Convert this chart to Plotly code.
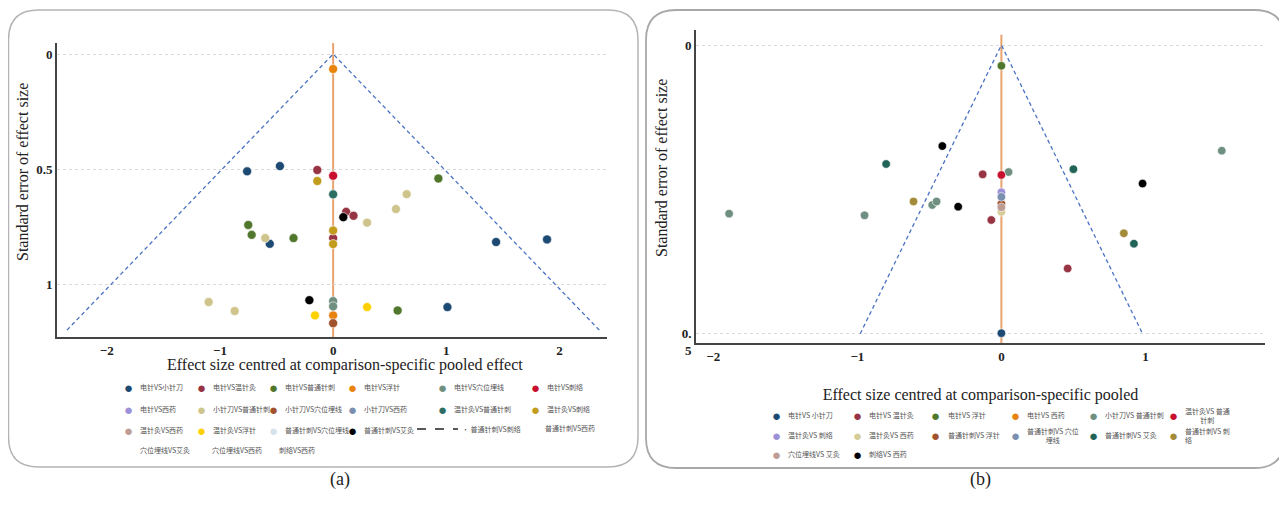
import plotly.graph_objects as go

# page offset (browser body margin) compensation
OFF = 8
W, H = 1287 - OFF, 507 - OFF

# ---------------- Panel (a) data ----------------
A_SERIES = ["电针VS小针刀", "电针VS温针灸", "电针VS普通针刺", "电针VS浮针", "电针VS穴位埋线", "电针VS刺络",
            "电针VS西药", "小针刀VS普通针刺", "小针刀VS穴位埋线", "小针刀VS西药", "温针灸VS普通针刺", "温针灸VS刺络",
            "温针灸VS西药", "温针灸VS浮针", "普通针刺VS穴位埋线", "普通针刺VS艾灸"]
A_X = [
    [-0.76, -0.47, -0.56, 1.44, 1.89, 1.01],
    [-0.14, 0.115, 0.18, 0.0],
    [-0.75, -0.72, -0.35, 0.93, 0.57],
    [0.0, 0.0],
    [0.0, 0.0],
    [0.0],
    [],
    [-0.60, -1.10, -0.87, 0.30, 0.555, 0.65],
    [0.0],
    [],
    [0.0],
    [-0.14, 0.0, 0.0],
    [],
    [-0.16, 0.30],
    [],
    [-0.21, 0.09],
]
A_Y = [
    [0.51, 0.487, 0.825, 0.817, 0.806, 1.10],
    [0.504, 0.686, 0.703, 0.80],
    [0.743, 0.786, 0.80, 0.541, 1.115],
    [0.065, 1.136],
    [1.074, 1.097],
    [0.529],
    [],
    [0.80, 1.078, 1.117, 0.733, 0.674, 0.609],
    [1.17],
    [],
    [0.61],
    [0.552, 0.767, 0.826],
    [],
    [1.136, 1.10],
    [],
    [1.07, 0.709],
]
A_LINE_SERIES = "普通针刺VS刺络"
A_TEXT_ONLY = ["普通针刺VS西药", "穴位埋线VS艾灸", "穴位埋线VS西药", "刺络VS西药"]
A_XTICKS = [-2, -1, 0, 1, 2]
A_YTICKS = [0, 0.5, 1]
A_YTICKTEXT = ["0", "0.5", "1"]
A_SE_MAX = 1.2
A_XTITLE = "Effect size centred at comparison-specific pooled effect"

# ---------------- Panel (b) data ----------------
B_SERIES = ["电针VS小针刀", "电针VS温针灸", "电针VS浮针", "电针VS西药", "小针刀VS普通针刺", "温针灸VS普通针刺",
            "温针灸VS刺络", "温针灸VS西药", "普通针刺VS浮针", "普通针刺VS穴位埋线", "普通针刺VS艾灸", "普通针刺VS刺络",
            "穴位埋线VS艾灸", "刺络VS西药"]
B_LEGEND_TEXT = ["电针VS 小针刀", "电针VS 温针灸", "电针VS 浮针", "电针VS 西药", "小针刀VS 普通针刺", "温针灸VS 普通<br>针刺",
                 "温针灸VS 刺络", "温针灸VS 西药", "普通针刺VS 浮针", "普通针刺VS 穴位<br>埋线", "普通针刺VS 艾灸", "普通针刺VS 刺<br>络",
                 "穴位埋线VS 艾灸", "刺络VS 西药"]
B_X = [
    [0.0],
    [-0.13, -0.07, 0.46],
    [0.0],
    [],
    [-1.89, -0.95, -0.48, -0.45, 0.05, 1.53],
    [0.0],
    [0.0],
    [0.0],
    [0.0],
    [0.0],
    [-0.80, 0.50, 0.92],
    [-0.61, 0.85],
    [0.0],
    [-0.41, -0.30, 0.98],
]
B_Y = [
    [0.499],
    [0.224, 0.303, 0.387],
    [0.036],
    [],
    [0.292, 0.295, 0.277, 0.271, 0.220, 0.183],
    [0.225],
    [0.255],
    [0.289],
    [0.275],
    [0.263],
    [0.206, 0.215, 0.344],
    [0.271, 0.326],
    [0.281],
    [0.175, 0.280, 0.240],
]
B_XTICKS = [-2, -1, 0, 1]
B_YTICKS = [0, 0.5]
B_YTICKTEXT = ["0", "\u00a0<br>0.<br>5"]
B_SE_MAX = 0.5
B_XTITLE = "Effect size centred at comparison-specific pooled"
Y_TITLE = "Standard error of effect size"
Z = 1.96

# ---------------- styles ----------------
COLORS = {
    "电针VS小针刀": "#1d4a73", "电针VS温针灸": "#963443", "电针VS普通针刺": "#50772b", "电针VS浮针": "#e8840e",
    "电针VS穴位埋线": "#6f8f80", "电针VS刺络": "#c8102e", "电针VS西药": "#9c90d8", "小针刀VS普通针刺": "#cfc58c",
    "小针刀VS穴位埋线": "#a2522c", "小针刀VS西药": "#7b8fae", "温针灸VS普通针刺": "#2c6d64", "温针灸VS刺络": "#c29c1c",
    "温针灸VS西药": "#bd9c94", "温针灸VS浮针": "#ffd000", "普通针刺VS穴位埋线": "#d7e3ea", "普通针刺VS艾灸": "#000000",
}
B_COLORS = {
    "电针VS小针刀": "#1d4a73", "电针VS温针灸": "#963443", "电针VS浮针": "#50772b", "电针VS西药": "#e8840e",
    "小针刀VS普通针刺": "#6f8f80", "温针灸VS普通针刺": "#c8102e", "温针灸VS刺络": "#9c90d8", "温针灸VS西药": "#d6cc96",
    "普通针刺VS浮针": "#a2522c", "普通针刺VS穴位埋线": "#7b8fae", "普通针刺VS艾灸": "#226358", "普通针刺VS刺络": "#a38b3a",
    "穴位埋线VS艾灸": "#bd9c94", "刺络VS西药": "#000000",
}
SERIF = "Liberation Serif"
CJK = "Noto Sans CJK SC"


def fx(p):
    return (p - OFF) / W


def fy(p):
    return 1 - (p - OFF) / H


fig = go.Figure()

# funnels first (below the points)
fig.add_trace(go.Scatter(x=[-Z * A_SE_MAX, 0, Z * A_SE_MAX], y=[A_SE_MAX, 0, A_SE_MAX], mode="lines",
                         line=dict(color="#4a72c4", width=1.3, dash="4px,3px"), showlegend=False,
                         xaxis="x", yaxis="y"))
fig.add_trace(go.Scatter(x=[-Z * B_SE_MAX, 0, Z * B_SE_MAX], y=[B_SE_MAX, 0, B_SE_MAX], mode="lines",
                         line=dict(color="#4a72c4", width=1.3, dash="4px,3px"), showlegend=False,
                         xaxis="x2", yaxis="y2"))

for name, xs, ys in zip(A_SERIES, A_X, A_Y):
    fig.add_trace(go.Scatter(x=xs, y=ys, mode="markers", name=name, showlegend=False,
                             marker=dict(size=9, color=COLORS[name], line=dict(width=0.6, color="white")),
                             xaxis="x", yaxis="y"))
for name, xs, ys in zip(B_SERIES, B_X, B_Y):
    fig.add_trace(go.Scatter(x=xs, y=ys, mode="markers", name=name, showlegend=False,
                             marker=dict(size=8.5, color=B_COLORS[name], line=dict(width=0.6, color="white")),
                             xaxis="x2", yaxis="y2"))

shapes = []
shapes.append(dict(type="line", xref="x", yref="y domain", x0=0, x1=0, y0=0, y1=1,
                   line=dict(color="#e9a36f", width=2), layer="below"))
shapes.append(dict(type="line", xref="x2", yref="y2 domain", x0=0, x1=0, y0=0, y1=0.985,
                   line=dict(color="#e9a36f", width=2), layer="below"))


def rounded_box(x0, y0, x1, y1, r):
    X0, X1 = fx(x0), fx(x1)
    Y0, Y1 = fy(y0), fy(y1)
    rx, ry = r / W, r / H
    return (f"M {X0+rx},{Y0} L {X1-rx},{Y0} Q {X1},{Y0} {X1},{Y0-ry} "
            f"L {X1},{Y1+ry} Q {X1},{Y1} {X1-rx},{Y1} L {X0+rx},{Y1} Q {X0},{Y1} {X0},{Y1+ry} "
            f"L {X0},{Y0-ry} Q {X0},{Y0} {X0+rx},{Y0} Z")


shapes.append(dict(type="path", xref="paper", yref="paper", path=rounded_box(8.5, 10, 638, 467, 30),
                   line=dict(color="#b4b4b4", width=1.5), layer="below"))
shapes.append(dict(type="path", xref="paper", yref="paper", path=rounded_box(646, 10, 1284.5, 468, 30),
                   line=dict(color="#a8a8a8", width=1.8), layer="below"))

annotations = []
annotations.append(dict(text="(a)", x=fx(328), y=fy(492), xref="paper", yref="paper", showarrow=False,
                        font=dict(family=SERIF, size=18, color="#222")))
annotations.append(dict(text="(b)", x=fx(993), y=fy(492), xref="paper", yref="paper", showarrow=False,
                        font=dict(family=SERIF, size=18, color="#222")))
TITLE_FONT = dict(family=SERIF, size=16, color="#222")
# axis titles placed as in the reference
annotations.append(dict(text=A_XTITLE, x=fx(345), y=fy(365), xref="paper", yref="paper", showarrow=False,
                        font=TITLE_FONT, xanchor="center", yanchor="middle"))
annotations.append(dict(text=Y_TITLE, x=fx(22), y=fy(172), xref="paper", yref="paper", showarrow=False,
                        font=TITLE_FONT, textangle=-90, xanchor="center", yanchor="middle"))
annotations.append(dict(text=Y_TITLE, x=fx(661), y=fy(168), xref="paper", yref="paper", showarrow=False,
                        font=TITLE_FONT, textangle=-90, xanchor="center", yanchor="middle"))

LEG_FONT = dict(family=CJK, size=7, color="#555")


def legend_item(name, color, mx, my, text=None, align="left"):
    annotations.append(dict(text="●", x=fx(mx), y=fy(my), xref="paper", yref="paper", showarrow=False,
                            font=dict(size=15, color=color), xanchor="center", yanchor="middle"))
    annotations.append(dict(text=text or name, x=fx(mx + 10), y=fy(my), xref="paper", yref="paper",
                            showarrow=False, font=LEG_FONT, xanchor="left", yanchor="middle", align=align))


# legend (a)
A_COLS = [128, 201, 273, 352, 442, 535]
A_ROWS = [387, 409, 430, 450]
A_ORDER = [
    ["电针VS小针刀", "电针VS温针灸", "电针VS普通针刺", "电针VS浮针", "电针VS穴位埋线", "电针VS刺络"],
    ["电针VS西药", "小针刀VS普通针刺", "小针刀VS穴位埋线", "小针刀VS西药", "温针灸VS普通针刺", "温针灸VS刺络"],
    ["温针灸VS西药", "温针灸VS浮针", "普通针刺VS穴位埋线", "普通针刺VS艾灸"],
]
for r, row in enumerate(A_ORDER):
    for c, name in enumerate(row):
        legend_item(name, COLORS[name], A_COLS[c], A_ROWS[r])
shapes.append(dict(type="line", xref="paper", yref="paper", x0=fx(417), x1=fx(458), y0=fy(429), y1=fy(429),
                   line=dict(color="#222", width=1.6, dash="dash")))
annotations.append(dict(text="· " + A_LINE_SERIES, x=fx(460), y=fy(429), xref="paper", yref="paper",
                        showarrow=False, font=LEG_FONT, xanchor="left", yanchor="middle"))
annotations.append(dict(text=A_TEXT_ONLY[0], x=fx(543), y=fy(428), xref="paper", yref="paper",
                        showarrow=False, font=LEG_FONT, xanchor="left", yanchor="middle"))
for name, tx in zip(A_TEXT_ONLY[1:], [138, 210, 277]):
    annotations.append(dict(text=name, x=fx(tx), y=fy(450), xref="paper", yref="paper",
                            showarrow=False, font=LEG_FONT, xanchor="left", yanchor="middle"))

# legend (b)
B_COLS = [776, 857, 936, 1015, 1093, 1173]
B_ROWS = [415, 435, 454]
for i, (name, txt) in enumerate(zip(B_SERIES, B_LEGEND_TEXT)):
    r, c = divmod(i, 6)
    align = "left" if name == "普通针刺VS刺络" else "center"
    legend_item(name, B_COLORS[name], B_COLS[c], B_ROWS[r], text=txt, align=align)

AX_TITLE_FONT = dict(family=SERIF, size=16, color="#222")
TICK_FONT = dict(family=SERIF, size=13, color="#222", weight="bold")

fig.update_layout(
    width=W, height=H,
    margin=dict(l=0, r=0, t=0, b=0),
    paper_bgcolor="white", plot_bgcolor="white",
    showlegend=False,
    shapes=shapes,
    annotations=annotations,
    xaxis=dict(domain=[fx(57), fx(607)], range=[-2.44, 2.42], tickvals=A_XTICKS, showgrid=False,
               zeroline=False, showline=True, linecolor="#444", linewidth=2, ticks="", tickfont=TICK_FONT,
               anchor="y", automargin=False),
    yaxis=dict(domain=[fy(337), fy(43)], range=[1.23, -0.048], tickvals=A_YTICKS, ticktext=A_YTICKTEXT,
               showgrid=True, gridcolor="#d9d9d9", griddash="dot", gridwidth=1,
               zeroline=False, showline=True, linecolor="#444", linewidth=2, ticks="", tickfont=TICK_FONT,
               anchor="x", automargin=False),
    xaxis2=dict(domain=[fx(696), fx(1265)], range=[-2.12, 1.83], tickvals=B_XTICKS, showgrid=False,
                zeroline=False, showline=True, linecolor="#444", linewidth=2, ticks="", tickfont=TICK_FONT,
                title=dict(text=B_XTITLE, font=AX_TITLE_FONT, standoff=26), anchor="y2", automargin=False),
    yaxis2=dict(domain=[fy(343), fy(30)], range=[0.516, -0.026], tickvals=B_YTICKS, ticktext=B_YTICKTEXT,
                showgrid=True, gridcolor="#d9d9d9", griddash="dot", gridwidth=1,
                zeroline=False, showline=True, linecolor="#444", linewidth=2, ticks="", tickfont=TICK_FONT,
                anchor="x2", automargin=False),
)

fig.write_html("out.html")
